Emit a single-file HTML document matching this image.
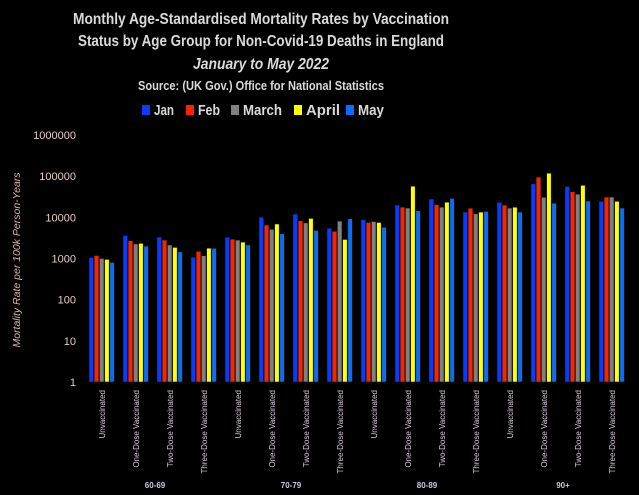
<!DOCTYPE html>
<html><head><meta charset="utf-8"><style>
html,body{margin:0;padding:0;background:#000;}
svg{display:block;font-family:"Liberation Sans",sans-serif;}
</style></head><body>
<svg id="chart" width="639" height="495" viewBox="0 0 639 495">
<rect width="639" height="495" fill="#000"/>
<g fill="#d9d9d9" font-weight="bold" text-anchor="middle">
<text x="261" y="24" font-size="16" textLength="376" lengthAdjust="spacingAndGlyphs">Monthly Age-Standardised Mortality Rates by Vaccination</text>
<text x="261" y="46" font-size="16" textLength="366" lengthAdjust="spacingAndGlyphs">Status by Age Group for Non-Covid-19 Deaths in England</text>
<text x="261" y="69" font-size="16" font-style="italic" textLength="136" lengthAdjust="spacingAndGlyphs">January to May 2022</text>
<text x="261" y="90" font-size="13" textLength="246" lengthAdjust="spacingAndGlyphs">Source: (UK Gov.) Office for National Statistics</text>
</g>
<g id="legend"></g>
<g id="yaxis"></g>
<text transform="translate(20,260) rotate(-90)" text-anchor="middle" fill="#e0b0b0" font-size="10.5" font-style="italic">Mortality Rate per 100k Person-Years</text>
<g id="bars"></g>
<g id="xaxis"></g>
</svg>
<script>
const months = ["Jan","Feb","March","April","May"];
const colors = ["#0a3cff","#ff2200","#808080","#ffff00","#0a6cff"];
const categories = ["Unvaccinated","One-Dose Vaccinated","Two-Dose Vaccinated","Three-Dose Vaccinated"];
const ageGroups = ["60-69","70-79","80-89","90+"];
const yTicks = [1,10,100,1000,10000,100000,1000000];
const yTickLabels = ["1","10","100","1000","10000","100000","1000000"];
const janValues   = [1050,3600,3300,1070, 3250,10000,12000,5400, 8700,19800,27800,13400, 23000,65000,56000,24300];
const febValues   = [1180,2700,2800,1490, 2950,6500,8300,4550, 7500,17600,20300,16600, 19800,95000,42000,31000];
const marchValues = [1000,2250,2130,1170, 2800,5100,7300,8100, 7900,16800,17600,12200, 16800,30500,36500,31000];
const aprilValues = [950,2330,1860,1780, 2500,6900,9400,2900, 7500,57000,23300,13400, 17600,118000,60000,24500];
const mayValues   = [800,2000,1450,1760, 2130,4000,4800,9200, 5700,14400,28700,13900, 13400,22000,24800,16800];
const series = [janValues,febValues,marchValues,aprilValues,mayValues];

const NS="http://www.w3.org/2000/svg";
function mk(tag,attrs,parent){const e=document.createElementNS(NS,tag);for(const k in attrs)e.setAttribute(k,attrs[k]);parent.appendChild(e);return e;}
const y0=382, perDecade=41.17;
function yScale(v){return y0-Math.log10(v)*perDecade;}
const x0=86, pitch=34, barW=5.2, barOff=3;
function xScale(i){return x0+i*pitch;}

const ya=document.getElementById('yaxis');
yTicks.forEach((t,i)=>{
  const tx=mk('text',{x:76,y:yScale(t)+4,'text-anchor':'end',fill:'#e8c8c8','font-size':11},ya);
  
  
  tx.textContent=yTickLabels[i];
});

const bars=document.getElementById('bars');
series.forEach((vals,s)=>{
  vals.forEach((v,i)=>{
    const x=xScale(i)+barOff+s*barW;
    const yy=yScale(v);
    const r=mk('rect',{x:x,y:yy,width:barW-0.6,height:y0-yy,fill:colors[s],stroke:'#111','stroke-width':0.6},bars);
    
    
  });
});

const xa=document.getElementById('xaxis');
for(let i=0;i<16;i++){
  const cx=xScale(i)+barOff+2.5*barW;
  const t=mk('text',{transform:`translate(${cx+3},390) rotate(-90)`,'text-anchor':'end',fill:'#d8c8d8','font-size':8},xa);
  
  
  t.textContent=categories[i%4];
}
ageGroups.forEach((g,k)=>{
  const cx=(xScale(k*4)+xScale(k*4+4))/2+1;
  const t=mk('text',{x:cx,y:488,'text-anchor':'middle',fill:'#c8c8e0','font-size':8,'font-weight':'bold'},xa);
  
  
  t.textContent=g;
});

const lg=document.getElementById('legend');
const lx=[142,186,231,294,346], lw=[20,22,39,34,26];
months.forEach((m,s)=>{
  const r=mk('rect',{x:lx[s],y:105,width:8,height:10,fill:colors[s]},lg);
  
  
  const t=mk('text',{x:lx[s]+12,y:115,fill:'#d9d9d9','font-size':15,'font-weight':'bold',textLength:lw[s],lengthAdjust:'spacingAndGlyphs'},lg);
  
  
  t.textContent=m;
});
</script>
</body></html>
